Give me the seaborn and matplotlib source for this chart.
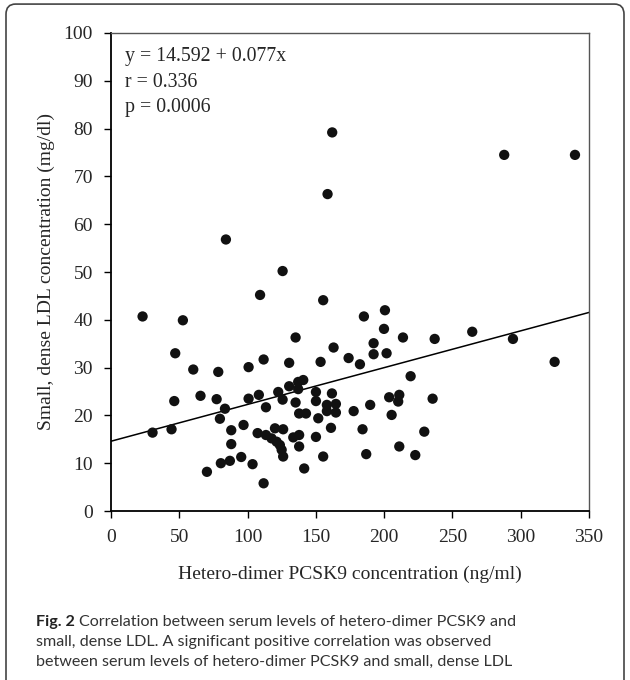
import numpy as np
import pandas as pd
import seaborn as sns
from matplotlib import pyplot as plt
from matplotlib.patches import FancyBboxPatch

# hetero-dimer PCSK9 (ng/ml) and small, dense LDL (mg/dl)
pcsk9 = [162.0, 158.6, 287.9, 339.7, 84.2, 109.2, 23.2, 52.7, 47.1, 60.3,
         78.6, 100.8, 111.8, 46.4, 65.6, 77.4, 100.8, 108.3, 83.5, 113.5,
         79.8, 125.7, 155.4, 185.2, 200.6, 199.9, 135.2, 213.8, 192.3, 163.0,
         192.3, 201.8, 174.0, 182.3, 130.5, 153.5, 219.4, 140.8, 137.1, 130.5,
         137.1, 122.5, 150.1, 161.8, 125.7, 150.1, 135.2, 203.7, 211.1, 210.3,
         235.5, 158.1, 164.7, 158.1, 164.7, 177.7, 189.8, 137.8, 142.8, 151.8,
         205.5, 264.5, 237.0, 294.3, 324.8, 30.5, 44.4, 88.1, 97.1, 107.4,
         113.5, 88.1, 95.4, 87.1, 80.5, 103.7, 70.3, 111.8, 120.1, 126.1,
         117.6, 121.3, 123.7, 125.0, 126.1, 133.5, 137.8, 137.8, 150.1, 161.1,
         155.4, 141.5, 184.2, 186.9, 211.1, 222.8, 229.4]
sd_ldl = [79.2, 66.3, 74.5, 74.5, 56.8, 45.2, 40.7, 39.9, 33.0, 29.6,
          29.1, 30.1, 31.7, 23.0, 24.1, 23.4, 23.5, 24.3, 21.4, 21.7,
          19.3, 50.2, 44.1, 40.7, 42.0, 38.1, 36.3, 36.3, 35.1, 34.2,
          32.8, 33.0, 32.0, 30.7, 31.0, 31.2, 28.2, 27.4, 27.0, 26.1,
          25.5, 24.9, 24.9, 24.6, 23.3, 23.0, 22.7, 23.8, 24.3, 22.9,
          23.5, 22.2, 22.4, 20.9, 20.6, 20.9, 22.2, 20.4, 20.4, 19.4,
          20.1, 37.5, 36.0, 36.0, 31.2, 16.4, 17.1, 16.9, 18.0, 16.3,
          15.9, 14.0, 11.3, 10.5, 10.0, 9.8, 8.2, 5.8, 17.3, 17.1,
          15.2, 14.5, 13.8, 12.8, 11.4, 15.4, 15.9, 13.5, 15.5, 17.4,
          11.4, 8.9, 17.1, 11.9, 13.5, 11.7, 16.6]

intercept = 14.592
slope = 0.077
x_ticks = [0, 50, 100, 150, 200, 250, 300, 350]
y_ticks = [0, 10, 20, 30, 40, 50, 60, 70, 80, 90, 100]

caption_lines = [
    'Correlation between serum levels of hetero-dimer PCSK9 and',
    'small, dense LDL. A significant positive correlation was observed',
    'between serum levels of hetero-dimer PCSK9 and small, dense LDL',
]

df = pd.DataFrame({'pcsk9': pcsk9, 'ldl': sd_ldl})

sns.set_style('ticks')
plt.rcParams['font.family'] = ['Liberation Serif', 'DejaVu Serif']

fig = plt.figure(figsize=(6.3, 6.8), dpi=100)
ax = fig.add_axes([0.176, 0.2485, 0.759, 0.703])

sns.scatterplot(data=df, x='pcsk9', y='ldl', ax=ax, s=55, color='#111111',
                edgecolor='none', zorder=3)

# regression line from the reported fit
line_x = np.array([x_ticks[0], x_ticks[-1]])
sns.lineplot(x=line_x, y=intercept + slope * line_x, ax=ax, color='black', lw=1.1)

ax.set_xlim(0, 350)
ax.set_ylim(0, 100)
ax.set_xticks(x_ticks)
ax.set_yticks(y_ticks)
ax.tick_params(labelsize=14, length=5, width=1, color='black', pad=8)
ax.set_xlabel('Hetero-dimer PCSK9 concentration (ng/ml)', fontsize=14, labelpad=14)
ax.set_ylabel('Small, dense LDL concentration (mg/dl)', fontsize=14, labelpad=6)

for side in ['left', 'bottom']:
    ax.spines[side].set_color('black')
    ax.spines[side].set_linewidth(1.3)
for side in ['top', 'right']:
    ax.spines[side].set_visible(True)
    ax.spines[side].set_color('#555555')
    ax.spines[side].set_linewidth(1.0)

ax.text(0.03, 0.97, 'y = 14.592 + 0.077x\nr = 0.336\np = 0.0006',
        transform=ax.transAxes, ha='left', va='top', fontsize=14.3, linespacing=1.45)

# caption under the chart
cap_font = ['Lato', 'DejaVu Sans']
cap_size = 11.6
cap_x = 36 / 630
baselines = [626, 646, 666]
fig_label = fig.text(cap_x, 1 - baselines[0] / 680, 'Fig. 2 ', fontsize=cap_size,
                     fontweight='bold', family=cap_font, color='#222222', va='baseline')
fig.canvas.draw()
bb = fig_label.get_window_extent(renderer=fig.canvas.get_renderer())
first_x = bb.x1 / fig.bbox.width
for i, line in enumerate(caption_lines):
    fig.text(first_x if i == 0 else cap_x, 1 - baselines[i] / 680, line,
             fontsize=cap_size, family=cap_font, color='#333333', va='baseline')

# rounded frame around the whole figure
frame = FancyBboxPatch((6 / 630, -0.02), 618 / 630, 1.014,
                       boxstyle='round,pad=0,rounding_size=0.015',
                       transform=fig.transFigure, fill=False,
                       edgecolor='#444444', lw=1.2)
fig.patches.append(frame)

fig.savefig('out.png', dpi=100)
